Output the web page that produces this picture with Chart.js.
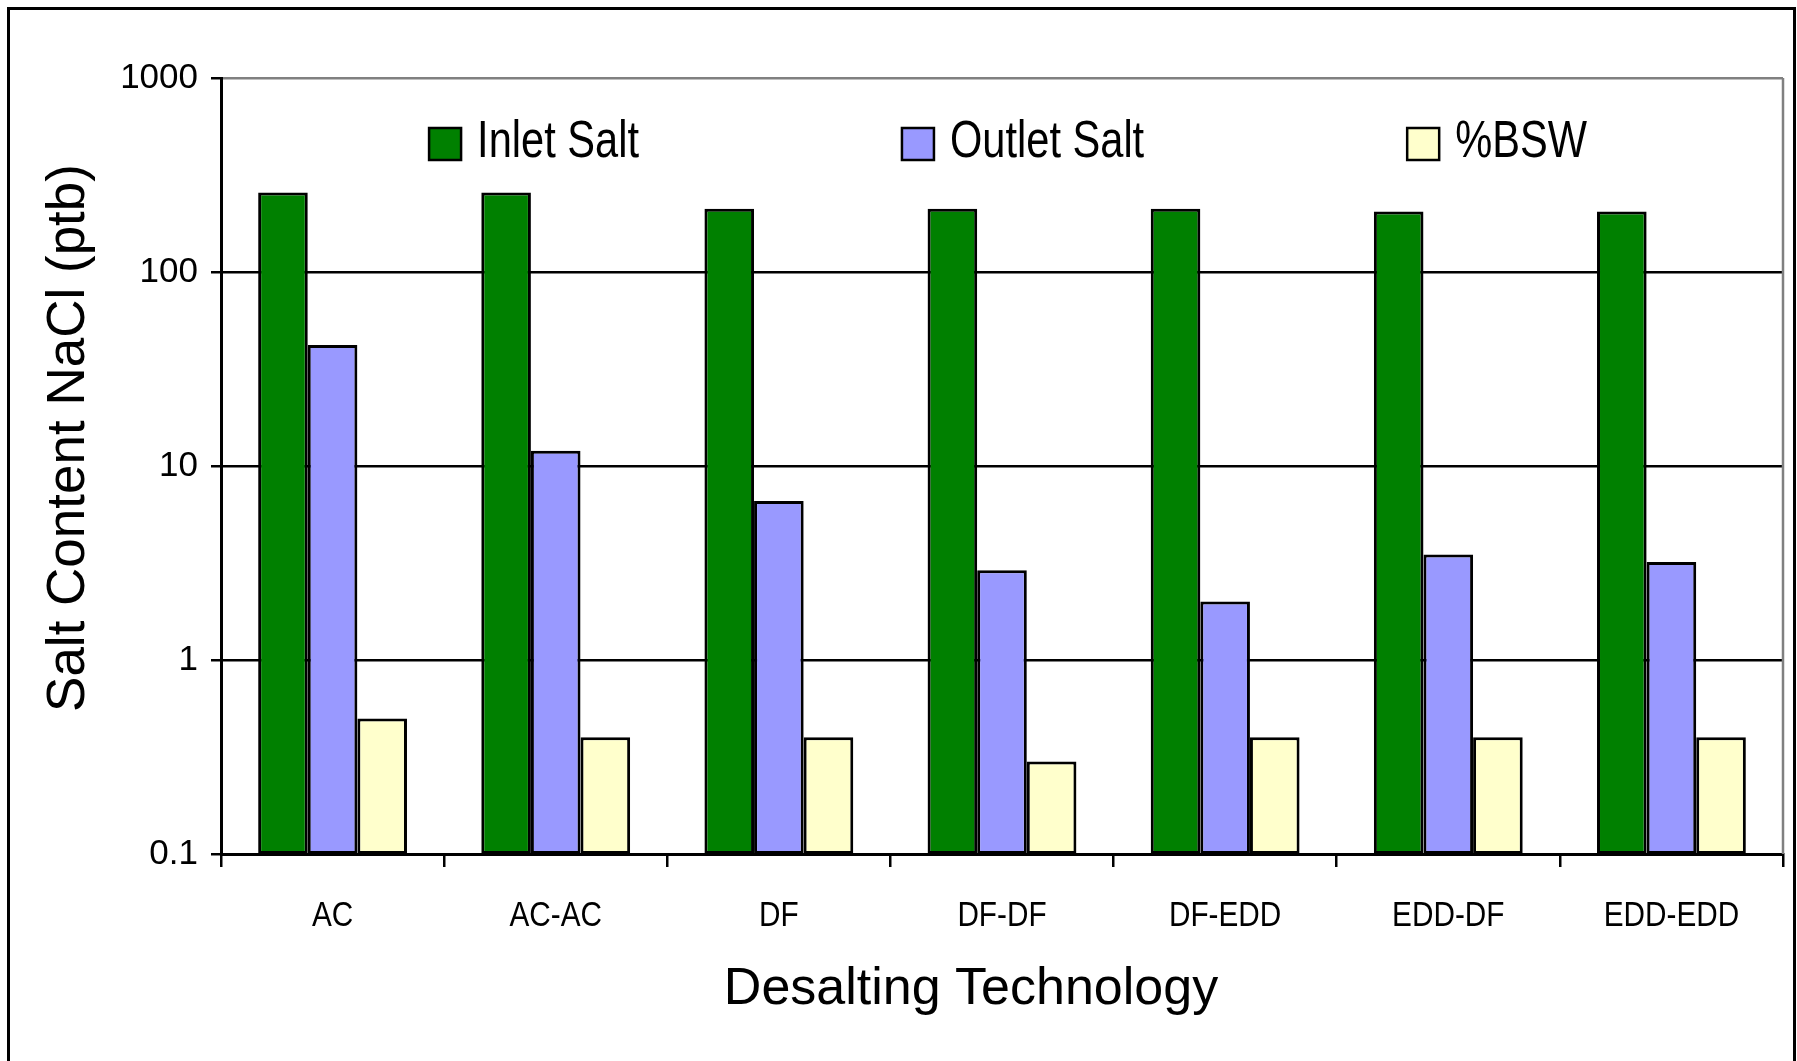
<!DOCTYPE html>
<html>
<head>
<meta charset="utf-8">
<title>Salt Content by Desalting Technology</title>
<script src="https://cdn.jsdelivr.net/npm/chart.js@4.4.1/dist/chart.umd.min.js"></script>
<style>
  html, body { margin: 0; padding: 0; background: #fff; }
  #wrap { position: relative; width: 1797px; height: 1061px; overflow: hidden; background: #fff; }
  #frame { position: absolute; left: 7px; top: 7px; width: 1789px; height: 1200px;
           border: 3px solid #000; box-sizing: border-box; }
  #chart { position: absolute; left: 0; top: 0; }
</style>
</head>
<body>
<div id="wrap">
  <div id="frame"></div>
  <canvas id="chart" width="1797" height="1061"></canvas>
</div>
<script>
// Desalting technologies compared
const categories = ['AC', 'AC-AC', 'DF', 'DF-DF', 'DF-EDD', 'EDD-DF', 'EDD-EDD'];

// Salt content (ptb NaCl) and water cut for each technology
const inletSalt  = [257, 257, 212, 212, 212, 205, 205];
const outletSalt = [42, 12, 6.6, 2.9, 2.0, 3.5, 3.2];
const bswPercent = [0.5, 0.4, 0.4, 0.3, 0.4, 0.4, 0.4];

const seriesNames = ['Inlet Salt', 'Outlet Salt', '%BSW'];
const seriesColors = ['#008000', '#9999FF', '#FFFFCC'];

// Decade ticks on the logarithmic value axis
const yTickValues = [0.1, 1, 10, 100, 1000];
const yTickLabels = ['0.1', '1', '10', '100', '1000'];

const yTitle = 'Salt Content NaCl (ptb)';
const xTitle = 'Desalting Technology';

const SANS = '"Liberation Sans", Arial, sans-serif';

// Draws text in a horizontally compressed Liberation Sans (narrow style)
function narrowText(ctx, text, x, y, size, squeeze, align) {
  ctx.save();
  ctx.font = size + 'px ' + SANS;
  ctx.textBaseline = 'middle';
  ctx.textAlign = align;
  ctx.translate(x, y);
  ctx.scale(squeeze, 1);
  ctx.fillText(text, 0, 0);
  ctx.restore();
}

// Legend drawn inside the plot area, near its top edge
const insideLegend = {
  id: 'insideLegend',
  afterDatasetsDraw(chart) {
    const ctx = chart.ctx;
    const area = chart.chartArea;
    const box = 32, gap = 16, spacing = 263, size = 52, squeeze = 0.8;
    ctx.save();
    ctx.font = size + 'px ' + SANS;
    const widths = chart.data.datasets.map(d => box + gap + ctx.measureText(d.label).width * squeeze);
    const total = widths.reduce((a, b) => a + b, 0) + spacing * (widths.length - 1);
    let x = (area.left + area.right) / 2 + 6 - total / 2;
    const top = area.top + 50;
    chart.data.datasets.forEach((d, i) => {
      ctx.fillStyle = d.backgroundColor;
      ctx.fillRect(x, top, box, box);
      ctx.lineWidth = 2.5;
      ctx.strokeStyle = '#000';
      ctx.strokeRect(x, top, box, box);
      ctx.fillStyle = '#000';
      narrowText(ctx, d.label, x + box + gap, top + box / 2 - 1, size, squeeze, 'left');
      x += widths[i] + spacing;
    });
    ctx.restore();
  }
};

// Category labels, gray right edge of the plot area and the two axis titles
const frameAndTitles = {
  id: 'frameAndTitles',
  afterDraw(chart) {
    const ctx = chart.ctx;
    const area = chart.chartArea;
    const xScale = chart.scales.x;
    ctx.save();
    ctx.strokeStyle = '#808080';
    ctx.lineWidth = 2.5;
    ctx.beginPath();
    ctx.moveTo(area.right, area.top);
    ctx.lineTo(area.right, area.bottom);
    ctx.stroke();

    ctx.fillStyle = '#000';
    chart.data.labels.forEach((label, i) => {
      narrowText(ctx, label, xScale.getPixelForValue(i), xScale.top + 62, 35, 0.85, 'center');
    });

    ctx.font = '52px ' + SANS;
    ctx.textAlign = 'center';
    ctx.textBaseline = 'middle';
    ctx.fillText(xTitle, 971, 990);

    ctx.font = '53px ' + SANS;
    ctx.translate(69, 438);
    ctx.rotate(-Math.PI / 2);
    ctx.fillText(yTitle, 0, 0);
    ctx.restore();
  }
};

const datasets = [inletSalt, outletSalt, bswPercent].map((values, i) => ({
  label: seriesNames[i],
  data: values,
  backgroundColor: seriesColors[i],
  borderColor: '#000',
  borderWidth: 3,
  borderSkipped: false,
  barPercentage: 1.0,
  categoryPercentage: 0.667
}));

new Chart(document.getElementById('chart'), {
  type: 'bar',
  data: { labels: categories, datasets },
  plugins: [insideLegend, frameAndTitles],
  options: {
    responsive: false,
    animation: false,
    events: [],
    layout: { padding: { left: 0, top: 78, right: 14, bottom: 0 } },
    plugins: { legend: { display: false }, tooltip: { enabled: false }, title: { display: false } },
    scales: {
      x: {
        type: 'category',
        grid: { offset: true, drawOnChartArea: false, drawTicks: true, tickLength: 13,
                color: '#000', lineWidth: 2.5 },
        border: { display: true, color: '#000', width: 3 },
        ticks: { display: false },
        afterFit(scale) { scale.height = 207; }
      },
      y: {
        type: 'logarithmic',
        min: 0.1,
        max: 1000,
        afterBuildTicks(scale) { scale.ticks = yTickValues.map(v => ({ value: v })); },
        grid: {
          color: ctx => (ctx.tick && ctx.tick.value === 1000) ? '#808080' : '#000',
          lineWidth: 2.5,
          tickLength: 10,
          tickColor: '#000',
          drawTicks: true
        },
        border: { display: true, color: '#000', width: 3 },
        ticks: {
          color: '#000',
          font: { family: SANS, size: 35 },
          padding: 13,
          callback: (value) => {
            const k = yTickValues.indexOf(value);
            return k >= 0 ? yTickLabels[k] : '';
          }
        },
        afterFit(scale) { scale.width = 221; }
      }
    }
  }
});
</script>
</body>
</html>
